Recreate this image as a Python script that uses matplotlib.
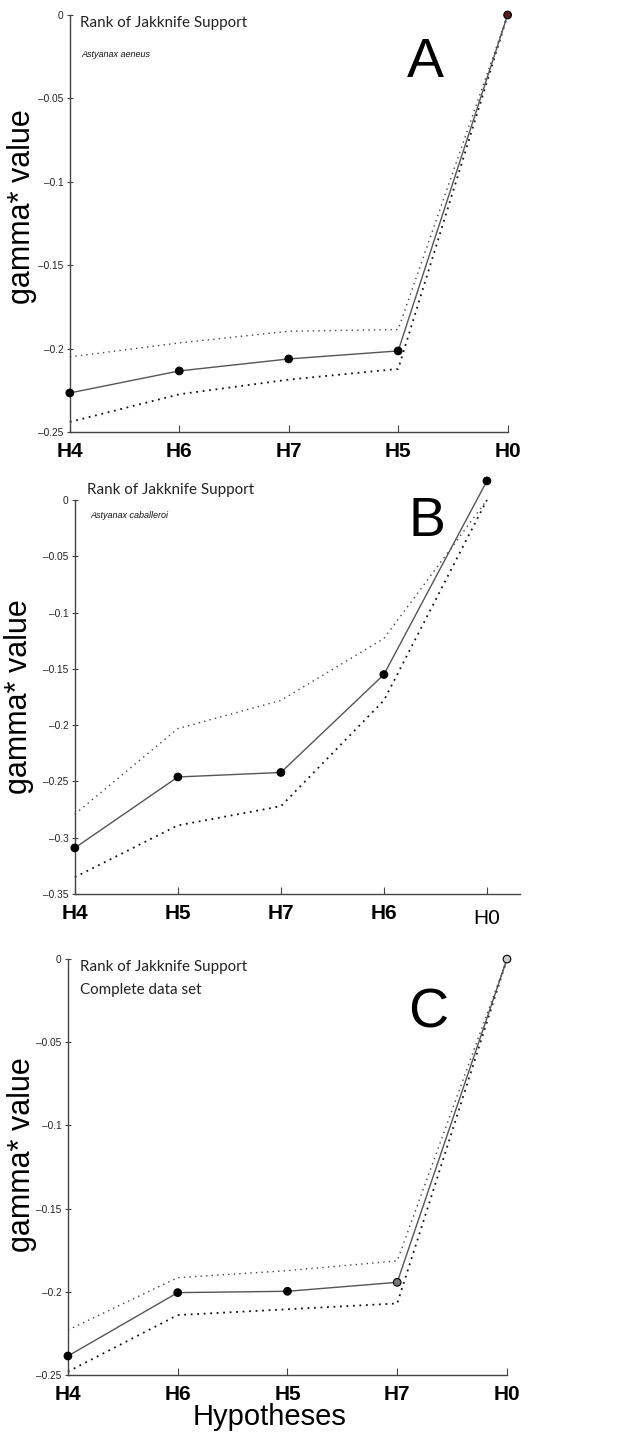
import matplotlib
matplotlib.use('Agg')
from matplotlib import pyplot as plt

# panel A - Astyanax aeneus
hyp_a = ['H4', 'H6', 'H7', 'H5', 'H0']
mean_a = [-0.2266, -0.2134, -0.2062, -0.2014, 0.0]
upper_a = [-0.205, -0.1966, -0.1896, -0.1886, 0.0]
lower_a = [-0.244, -0.2274, -0.2186, -0.2122, 0.0]
yticks_a = [-0.25, -0.2, -0.15, -0.1, -0.05, 0]

# panel B - Astyanax caballeroi
hyp_b = ['H4', 'H5', 'H7', 'H6', 'H0']
mean_b = [-0.309, -0.246, -0.242, -0.155, 0.017]
upper_b = [-0.279, -0.203, -0.178, -0.123, 0.0]
lower_b = [-0.335, -0.289, -0.272, -0.178, 0.0]
yticks_b = [-0.35, -0.3, -0.25, -0.2, -0.15, -0.1, -0.05, 0]

# panel C - complete data set
hyp_c = ['H4', 'H6', 'H5', 'H7', 'H0']
mean_c = [-0.2386, -0.2005, -0.1997, -0.1943, 0.0]
upper_c = [-0.223, -0.1915, -0.1873, -0.1814, 0.0]
lower_c = [-0.248, -0.214, -0.2105, -0.207, 0.0]
yticks_c = [-0.25, -0.2, -0.15, -0.1, -0.05, 0]

fig = plt.figure(figsize=(6.29, 14.39), dpi=100)

tick_font = ['Liberation Sans Narrow', 'Liberation Sans', 'DejaVu Sans']
note_font = ['Lato', 'DejaVu Sans']
plain_font = ['Liberation Sans', 'DejaVu Sans']


def fmt(v):
    if v == 0:
        return '0'
    return ('%g' % v).replace('-', '\u2013')


def panel(rect, hyp, mean, upper, lower, yticks, xmax, letter, sub, sub_italic,
          pos, faces):
    ax = fig.add_axes(rect)
    x = list(range(1, len(hyp) + 1))
    ax.plot(x, upper, color='#444444', lw=1.0, ls=(0, (1, 3)), clip_on=False)
    ax.plot(x, lower, color='#111111', lw=1.3, ls=(0, (1, 2.6)), clip_on=False)
    ax.plot(x, mean, '-', color='#555555', lw=1.0, clip_on=False)
    ax.scatter(x, mean, s=30, c=faces, edgecolors='black', linewidths=0.8,
               clip_on=False, zorder=5)
    ax.set_xlim(1, xmax)
    ax.set_ylim(yticks[0], yticks[-1])
    ax.set_xticks(x)
    ax.set_xticklabels(hyp, fontsize=15, family=tick_font, fontweight='bold')
    ax.set_yticks(yticks)
    ax.set_yticklabels([fmt(v) for v in yticks], fontsize=7.3,
                       family=plain_font, color='#222222')
    ax.tick_params(axis='x', direction='in', length=5, pad=7, color='#444444')
    ax.tick_params(axis='y', direction='inout', length=5, pad=2,
                   color='#444444')
    for s in ['top', 'right']:
        ax.spines[s].set_visible(False)
    for s in ['left', 'bottom']:
        ax.spines[s].set_color('#444444')
        ax.spines[s].set_linewidth(1.0)
    ax.set_ylabel('gamma* value', fontsize=22, family=plain_font)
    ax.yaxis.set_label_coords(pos['ylab'][0], pos['ylab'][1])
    ax.text(pos['title'][0], pos['title'][1], 'Rank of Jakknife Support',
            transform=ax.transAxes, fontsize=10.9, family=note_font,
            va='center', ha='left', color='#222222')
    if sub_italic:
        ax.text(pos['sub'][0], pos['sub'][1], sub, transform=ax.transAxes,
                fontsize=6.5, style='italic', family=tick_font,
                va='center', ha='left', color='#111111')
    else:
        ax.text(pos['sub'][0], pos['sub'][1], sub, transform=ax.transAxes,
                fontsize=10.9, family=note_font, va='center', ha='left',
                color='#222222')
    ax.text(pos['letter'][0], pos['letter'][1], letter, transform=ax.transAxes,
            fontsize=40, family=plain_font, va='center', ha='center')
    return ax


ax_a = panel([0.111, 0.6998, 0.696, 0.2898], hyp_a, mean_a, upper_a, lower_a,
             yticks_a, 5, 'A', 'Astyanax aeneus', True,
             {'ylab': (-0.075, 0.54), 'title': (0.023, 0.981),
              'sub': (0.027, 0.905), 'letter': (0.813, 0.885)},
             ['black', 'black', 'black', 'black', '#5a1a1a'])

ax_b = panel([0.119, 0.3787, 0.7075, 0.2738], hyp_b, mean_b, upper_b, lower_b,
             yticks_b, 5.32, 'B', 'Astyanax caballeroi', True,
             {'ylab': (-0.092, 0.5), 'title': (0.027, 1.025),
              'sub': (0.034, 0.962), 'letter': (0.791, 0.945)},
             ['black'] * 5)
# H0 label in panel B is set lighter and a bit lower
lab = ax_b.get_xticklabels()[-1]
lab.set_fontweight('normal')
lab.set_family(plain_font)
lab.set_y(-0.012)

ax_c = panel([0.108, 0.0445, 0.698, 0.289], hyp_c, mean_c, upper_c, lower_c,
             yticks_c, 5, 'C', 'Complete data set', False,
             {'ylab': (-0.07, 0.53), 'title': (0.027, 0.981),
              'sub': (0.027, 0.925), 'letter': (0.82, 0.868)},
             ['black', 'black', 'black', '#777777', '#cccccc'])

fig.text(0.429, 0.0155, 'Hypotheses', fontsize=21, family=plain_font,
         ha='center', va='center')

plt.savefig('out.png', dpi=100)
